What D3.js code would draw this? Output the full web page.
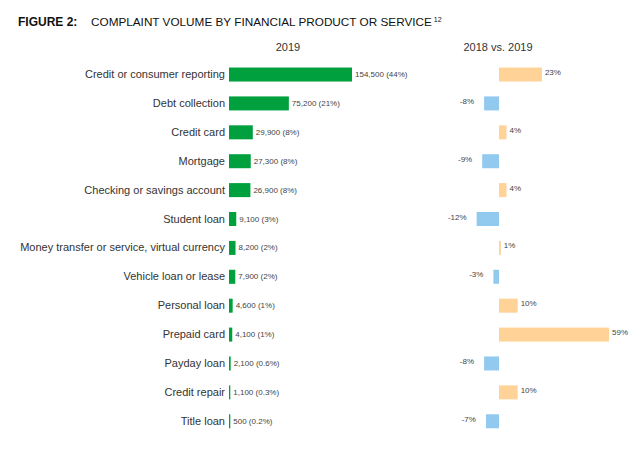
<!DOCTYPE html>
<html><head><meta charset="utf-8">
<script src="https://cdn.jsdelivr.net/npm/d3@7"></script>
<style>body{margin:0;background:#fff}svg{display:block;font-family:"Liberation Sans",Arial,sans-serif}</style>
</head><body>
<svg id="c" width="641" height="452"></svg>
<script>
const categories = ["Credit or consumer reporting","Debt collection","Credit card","Mortgage","Checking or savings account","Student loan","Money transfer or service, virtual currency","Vehicle loan or lease","Personal loan","Prepaid card","Payday loan","Credit repair","Title loan"];
const volume2019 = [154500,75200,29900,27300,26900,9100,8200,7900,4600,4100,2100,1100,500];
const share2019 = ["44%","21%","8%","8%","8%","3%","2%","2%","1%","1%","0.6%","0.3%","0.2%"];
const change = [23,-8,4,-9,4,-12,1,-3,10,59,-8,10,-7];

const svg = d3.select("#c");
const y = d3.scaleBand().domain(categories).range([60.1, 435.7]).paddingInner(0.515).paddingOuter(0.257);
const x = d3.scaleLinear().domain([0,154500]).range([229,352]);
const xc = d3.scaleLinear().domain([0,59]).range([499,609]);
const cy = c => y(c) + y.bandwidth()/2;

// title
const t = svg.append("text").attr("x",18).attr("y",26).attr("font-size",12).attr("fill","#111");
t.append("tspan").attr("font-weight","bold").text("FIGURE 2:");
t.append("tspan").attr("x",91).attr("font-size",11.75).text("COMPLAINT VOLUME BY FINANCIAL PRODUCT OR SERVICE");
t.append("tspan").attr("font-size",7).attr("dy",-4).attr("dx",2).text("12");

svg.append("text").attr("x",288).attr("y",51).attr("text-anchor","middle").attr("font-size",11).attr("fill","#333").text("2019");
svg.append("text").attr("x",498).attr("y",51).attr("text-anchor","middle").attr("font-size",11).attr("fill","#333").text("2018 vs. 2019");

// category labels
svg.append("g").selectAll("text").data(categories).join("text")
  .attr("x",225).attr("y",d=>cy(d)+3.5).attr("text-anchor","end")
  .attr("font-size",11).attr("fill","#333").text(d=>d);

// 2019 bars
const rows = categories.map((c,i)=>({c, v:volume2019[i], s:share2019[i], ch:change[i]}));
svg.append("g").selectAll("rect").data(rows).join("rect")
  .attr("x",x(0)).attr("y",d=>y(d.c))
  .attr("width",d=>Math.max(1.3, x(d.v)-x(0))).attr("height",y.bandwidth())
  .attr("fill","#00a03e");
svg.append("g").selectAll("text").data(rows).join("text")
  .attr("x",d=>x(0)+Math.max(1.3, x(d.v)-x(0))+3).attr("y",d=>cy(d.c)+2.5)
  .attr("font-size",8).attr("fill","#444")
  .text(d=>d3.format(",")(d.v)+" ("+d.s+")");

// change bars
svg.append("g").selectAll("rect").data(rows).join("rect")
  .attr("x",d=>Math.min(xc(0),xc(d.ch))).attr("y",d=>y(d.c))
  .attr("width",d=>Math.abs(xc(d.ch)-xc(0))).attr("height",y.bandwidth())
  .attr("fill",d=>d.ch>=0?"#ffd298":"#92caef");
svg.append("g").selectAll("text").data(rows).join("text")
  .attr("x",d=>d.ch>=0?xc(d.ch)+3:xc(d.ch)-10)
  .attr("y",d=>cy(d.c)+0.5)
  .attr("text-anchor",d=>d.ch>=0?"start":"end")
  .attr("font-size",8).attr("fill","#444")
  .text(d=>d.ch+"%");
</script>
</body></html>
